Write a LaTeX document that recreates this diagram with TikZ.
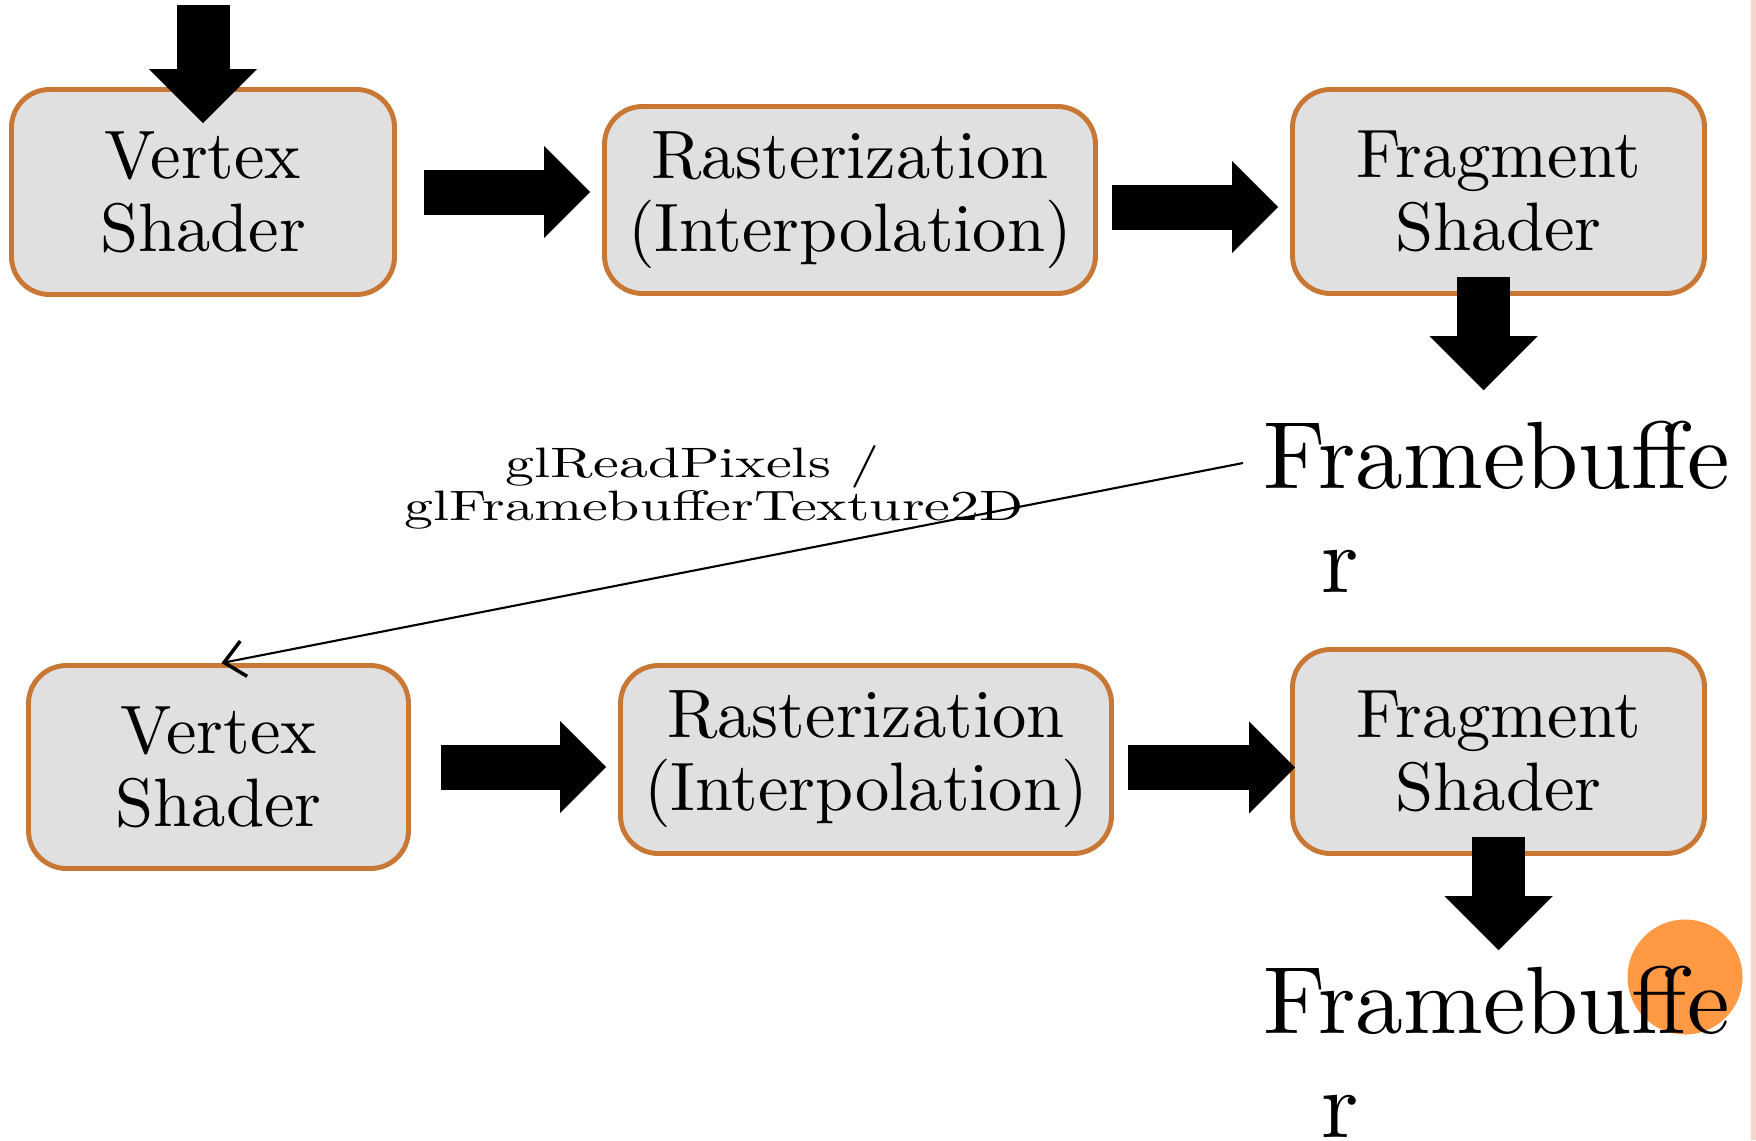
\documentclass[tikz,border=0pt]{standalone}
\usepackage{graphicx}
\usepackage{fontspec}
\setmainfont{lmroman10-regular}[Extension=.otf]
\usetikzlibrary{arrows.meta}
\definecolor{boxedge}{RGB}{200,120,52}
\definecolor{boxfill}{RGB}{224,224,224}
\definecolor{dotorange}{RGB}{255,153,68}
\definecolor{sidepink}{RGB}{251,212,200}
\newcommand{\widetext}[1]{\scalebox{1.36}[1]{#1}}

\begin{document}
\begin{tikzpicture}
        \tikzstyle{stage}=[draw=boxedge, fill=boxfill, line width=1.4pt, rounded corners=0.38cm, align=center, inner sep=0pt, font=\fontsize{19.5}{20.8}\selectfont]
        \tikzstyle{fatright}=[line width=0.45cm, -{Triangle[length=0.46cm,width=0.92cm,line width=0pt]}]
        \tikzstyle{fatdown}=[line width=0.53cm, -{Triangle[length=0.54cm,width=1.08cm,line width=0pt]}]
        \tikzstyle{fbtext}=[anchor=base west, align=left, inner sep=0pt, font=\fontsize{27.2}{29.5}\selectfont]
        \useasboundingbox (0,0) rectangle (17.56,-11.40);
        \fill[sidepink] (17.51,0) rectangle (17.56,-11.40);
        % first pass
        \node [stage, minimum width=3.83cm, minimum height=2.05cm] (vs1) at (2.03,-1.92) {Vertex\\Shader};
        \node [stage, minimum width=4.91cm, minimum height=1.87cm] (ra1) at (8.50,-2.00) {Rasterization\\(Interpolation)};
        \node [stage, minimum width=4.12cm, minimum height=2.04cm] (fs1) at (14.985,-1.915) {Fragment\\Shader};
        \node [fbtext] (fb1) at (12.63,-5.92) {Framebuffe\\\hspace*{0.6em}r};
        % second pass
        \node [stage, minimum width=3.80cm, minimum height=2.03cm] (vs2) at (2.185,-7.67) {Vertex\\Shader};
        \node [stage, minimum width=4.91cm, minimum height=1.88cm] (ra2) at (8.66,-7.595) {Rasterization\\(Interpolation)};
        \node [stage, minimum width=4.12cm, minimum height=2.04cm] (fs2) at (14.985,-7.515) {Fragment\\Shader};
        \fill[dotorange] (16.85,-9.77) circle (0.575);
        \node [fbtext] (fb2) at (12.63,-11.37) {Framebuffe\\\hspace*{0.6em}r};
        \node [align=center, inner sep=0pt, font=\fontsize{12.1}{12.2}\selectfont] (rd) at (7.14,-4.87) {\widetext{glReadPixels /}\hspace*{0.43cm}\\\widetext{glFramebufferTexture2D}};
        \coordinate (in) at (2.03,-0.05);
        % fat arrows
        \draw [fatdown] (in) -- ([yshift=-0.36cm]vs1.north);
        \draw [fatright] ([xshift=0.27cm]vs1.east) -- ([xshift=-0.12cm]vs1.east -| ra1.west);
        \draw [fatright] ([shift={(0.14cm,-0.07cm)}]ra1.east) -- ([shift={(-0.12cm,-0.07cm)}]ra1.east -| fs1.west);
        \draw [fatdown] ([shift={(-0.15cm,0.19cm)}]fs1.south) -- ([shift={(-0.15cm,0.30cm)}]fs1.south |- fb1.north);
        \draw [fatright] ([xshift=0.30cm]vs2.east) -- ([xshift=-0.12cm]vs2.east -| ra2.west);
        \draw [fatright] ([shift={(0.14cm,-0.08cm)}]ra2.east) -- ([shift={(0.05cm,-0.08cm)}]ra2.east -| fs2.west);
        \draw [fatdown] ([yshift=0.19cm]fs2.south) -- ([yshift=0.15cm]fs2.south |- fb2.north);
        % read back
        \draw [line width=0.6pt, -{Straight Barb[length=2mm,width=3.6mm,line width=1pt]}] ([shift={(-0.2cm,1.29cm)}]fb1.base west) -- ([xshift=0.03cm]vs2.north);
\end{tikzpicture}
\end{document}
